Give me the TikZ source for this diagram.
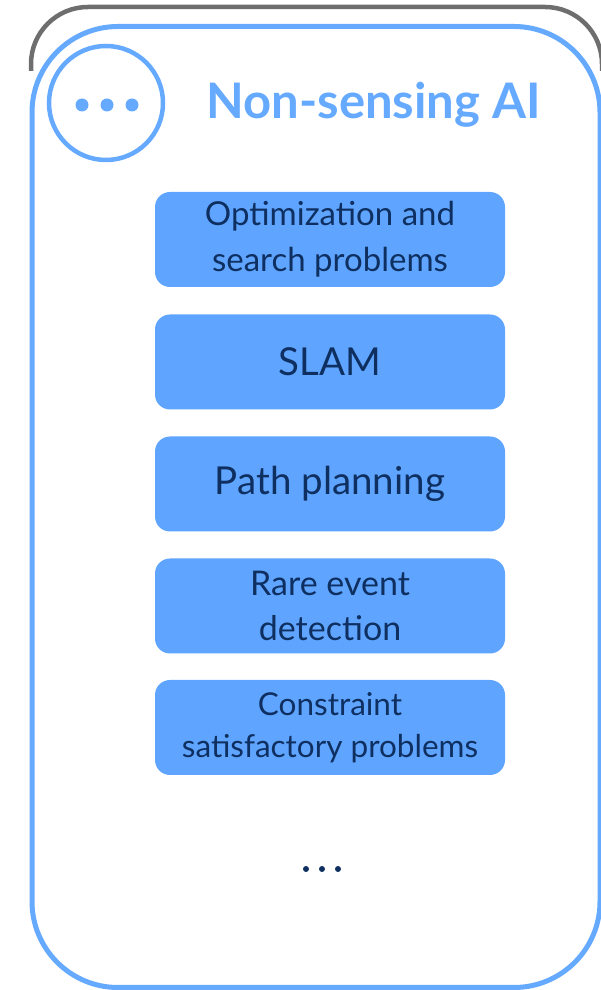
\documentclass[tikz,border=0pt]{standalone}
\usepackage{fontspec}
\setmainfont{Lato}
\usetikzlibrary{calc}

\definecolor{skyblue}{HTML}{66AAFF}
\definecolor{boxblue}{HTML}{5FA5FF}
\definecolor{navy}{HTML}{0E2F60}
\definecolor{framegray}{HTML}{6E6E6E}

\begin{document}
\begin{tikzpicture}[x=1pt, y=1pt,
    task/.style={rectangle, rounded corners=15pt, fill=boxblue, text=navy,
      minimum width=350pt, minimum height=95pt, inner sep=0pt, align=center}]
    \clip (0,0) rectangle (601,990);
    % frames
    \draw[framegray, line width=4.5pt, rounded corners=57pt] (31,919) -- (31,983) -- (602,983) -- (602,919);
    \draw[skyblue, line width=5pt, rounded corners=86pt] (32,2.5) rectangle (600,963.5);
    % header
    \node[circle, draw=skyblue, line width=4.5pt, minimum size=114pt, inner sep=0pt] (more) at (106,887) {};
    \foreach \dx in {-24,1,26}
      \fill[skyblue] ($(more) + (\dx, -2)$) circle (6.5pt);
    \node[anchor=base, text=skyblue, font=\bfseries\fontsize{49}{49}\selectfont] (title) at (373.5,871) {Non-sensing AI};
    % task boxes
    \node[task, font=\fontsize{33}{46}\selectfont] (opt) at (330,750.5) {Optimization and\\search problems};
    \node[task, font=\fontsize{38.5}{40}\selectfont] (slam) at ($(opt) + (0, -122.5)$) {SLAM};
    \node[task, font=\fontsize{38.5}{40}\selectfont] (path) at ($(slam) + (0, -122)$) {Path planning};
    \node[task, font=\fontsize{34}{45}\selectfont] (rare) at ($(path) + (0, -122)$) {Rare event\\detection};
    \node[task, font=\fontsize{31.5}{42}\selectfont] (csp) at ($(rare) + (0, -121.5)$) {Constraint\\satisfactory problems};
    \foreach \dx in {-24,-8,8}
      \fill[navy] ($(csp) + (\dx, -141.5)$) circle (3pt);
  \end{tikzpicture}
\end{document}
